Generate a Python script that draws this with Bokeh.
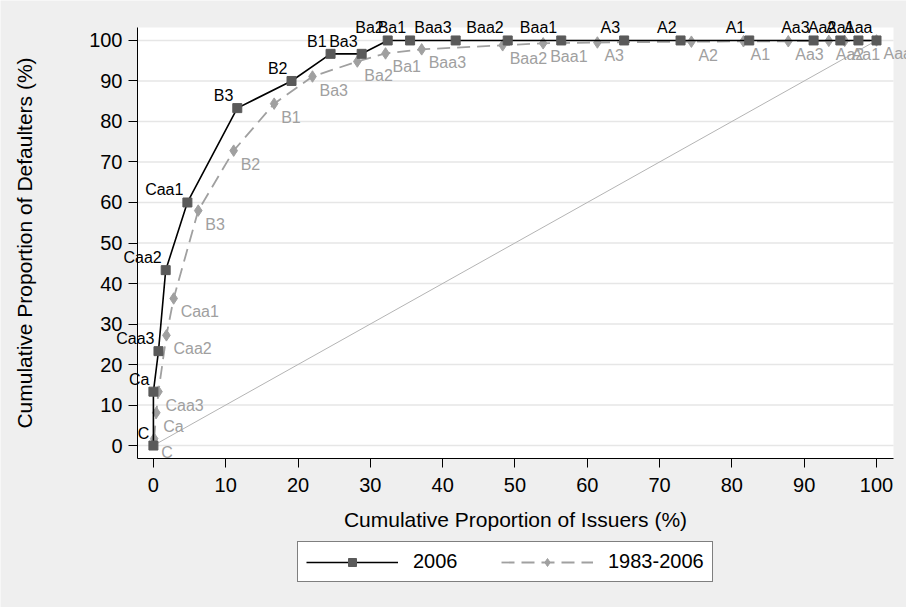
from bokeh.plotting import figure
from bokeh.models import Range1d, FixedTicker, Legend, LegendItem, ColumnDataSource, LabelSet
from bokeh.core.properties import value
from bokeh.embed import file_html
from bokeh.resources import INLINE

ratings = ["C", "Ca", "Caa3", "Caa2", "Caa1", "B3", "B2", "B1", "Ba3", "Ba2", "Ba1",
           "Baa3", "Baa2", "Baa1", "A3", "A2", "A1", "Aa3", "Aa2", "Aa1", "Aaa"]

issuers_2006 = [0.0, 0.0, 0.7, 1.7, 4.7, 11.6, 19.1, 24.5, 28.8, 32.4, 35.5,
                41.8, 49.0, 56.4, 65.1, 72.9, 82.4, 91.3, 95.0, 97.5, 100.0]
defaulters_2006 = [0.0, 13.3, 23.3, 43.3, 60.0, 83.3, 90.0, 96.7, 96.7, 100.0, 100.0,
                   100.0, 100.0, 100.0, 100.0, 100.0, 100.0, 100.0, 100.0, 100.0, 100.0]

issuers_hist = [0.1, 0.4, 0.7, 1.8, 2.8, 6.2, 11.1, 16.7, 22.0, 28.2, 32.1,
                37.1, 48.3, 53.9, 61.4, 74.4, 81.6, 87.8, 93.4, 95.6, 100.0]
defaulters_hist = [1.7, 8.1, 13.3, 27.2, 36.3, 58.0, 72.8, 84.4, 91.1, 94.8, 96.8,
                   97.8, 98.8, 99.3, 99.5, 99.7, 99.8, 99.8, 99.9, 99.9, 100.0]

diag_x = [0, 100]
diag_y = [0, 100]

ticks = [0, 10, 20, 30, 40, 50, 60, 70, 80, 90, 100]
series_names = ["2006", "1983-2006"]

# ---- layout (pixels) and axis limits ----
W, H = 906, 607
PLOT_L, PLOT_R, PLOT_T, PLOT_B = 137, 893, 27, 458     # white plot area in page px
X_LO, X_HI = -2.2, 102.35                              # axis limits of plot area
Y_LO, Y_HI = -3.2, 103.2
sx = (PLOT_R - PLOT_L) / (X_HI - X_LO)
sy = (PLOT_B - PLOT_T) / (Y_HI - Y_LO)
x_start = X_LO - PLOT_L / sx
x_end = X_HI + (W - PLOT_R) / sx
y_start = Y_LO - (H - PLOT_B) / sy
y_end = Y_HI + PLOT_T / sy

BG = "#EFEFEF"
C_2006_LINE = "black"
C_2006_MARK = "#5A5A5A"
C_HIST = "#A0A0A0"
DASH = "13 7"
FONT = "Liberation Sans"

p = figure(width=W, height=H, output_backend="svg", toolbar_location=None, title=None,
           x_range=Range1d(x_start, x_end), y_range=Range1d(y_start, y_end),
           min_border_left=0, min_border_right=0, min_border_top=0,
           min_border_bottom=0)
p.border_fill_color = BG
p.background_fill_color = BG
p.outline_line_color = None
p.xgrid.visible = False
p.ygrid.visible = False

# white plot area and horizontal grid lines
p.quad(left=[X_LO], right=[X_HI], bottom=[Y_LO], top=[Y_HI],
       fill_color="white", line_color=None)
p.segment(x0=[X_LO] * len(ticks), y0=ticks, x1=[X_HI] * len(ticks), y1=ticks,
          line_color="#E6E6E6", line_width=1.5)

for ax in (p.xaxis[0], p.yaxis[0]):
    ax.ticker = FixedTicker(ticks=ticks)
    ax.axis_line_color = "black"
    ax.major_tick_line_color = "black"
    ax.major_tick_out = 9
    ax.major_tick_in = 0
    ax.minor_tick_line_color = None
    ax.major_label_text_font = FONT
    ax.major_label_text_font_size = "20px"
    ax.major_label_text_color = "black"
    ax.axis_label_text_font = FONT
    ax.axis_label_text_font_size = "21px"
    ax.axis_label_text_font_style = "normal"
    ax.axis_label_text_color = "black"

p.xaxis.fixed_location = Y_LO
p.xaxis.bounds = (X_LO, X_HI)
p.yaxis.fixed_location = X_LO
p.yaxis.bounds = (Y_LO, Y_HI)

p.xaxis.axis_label = "Cumulative Proportion of Issuers (%)"
p.yaxis.axis_label = "Cumulative Proportion of Defaulters (%)"
p.yaxis.major_label_orientation = "horizontal"
p.xaxis.major_label_standoff = 10
p.xaxis.axis_label_standoff = 13
p.yaxis.major_label_standoff = 6
p.yaxis.axis_label_standoff = 50

# diagonal reference
p.line(diag_x, diag_y, line_color="#B4B4B4", line_width=1)

src_hist = ColumnDataSource(dict(x=issuers_hist, y=defaulters_hist, t=ratings))
src_06 = ColumnDataSource(dict(x=issuers_2006, y=defaulters_2006, t=ratings))

l2 = p.line("x", "y", source=src_hist, line_color=C_HIST, line_width=1.8, line_dash=DASH)
s2 = p.scatter("x", "y", source=src_hist, marker="diamond",
               size=11.5, fill_color=C_HIST, line_color=C_HIST)

l1 = p.line("x", "y", source=src_06, line_color=C_2006_LINE, line_width=1.6)
s1 = p.scatter("x", "y", source=src_06, marker="square", size=9,
               fill_color=C_2006_MARK, line_color=C_2006_MARK)

p.add_layout(LabelSet(x="x", y="y", text="t", source=src_hist, x_offset=7, y_offset=-5,
                      text_align="left", text_baseline="top",
                      text_font=value(FONT), text_font_size=value("16px"),
                      text_color=C_HIST))
p.add_layout(LabelSet(x="x", y="y", text="t", source=src_06, x_offset=-4, y_offset=7,
                      text_align="right", text_baseline="alphabetic",
                      text_font=value(FONT), text_font_size=value("16px"),
                      text_color="black"))

legend = Legend(items=[LegendItem(label=series_names[0], renderers=[l1, s1]),
                       LegendItem(label=series_names[1], renderers=[l2, s2])],
                orientation="horizontal", location=(297, H - 582),
                glyph_width=92, glyph_height=20, label_standoff=15,
                label_width=88, spacing=0, padding=8, margin=0,
                border_line_color="black", border_line_width=1,
                background_fill_color="white", background_fill_alpha=1,
                label_text_font=FONT, label_text_font_size="20px",
                label_text_color="black")
p.add_layout(legend, "center")

open("out.html", "w").write(file_html(p, INLINE))
